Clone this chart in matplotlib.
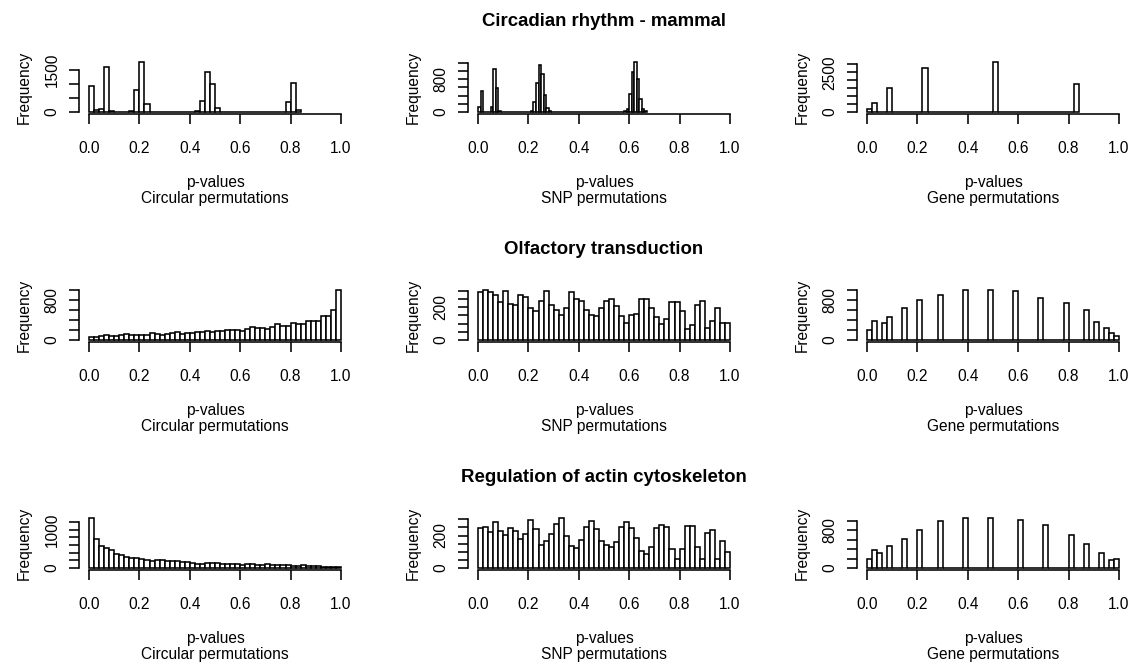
import matplotlib
matplotlib.use("Agg")
import matplotlib.pyplot as plt
import numpy as np

plt.rcParams['font.family'] = ['Liberation Sans', 'DejaVu Sans']

# ---------------- data ----------------
titles = ["Circadian rhythm - mammal", "Olfactory transduction", "Regulation of actin cytoskeleton"]
xlabel_top = "p-values"
xlabels = ["Circular permutations", "SNP permutations", "Gene permutations"]
xtick_vals = [0.0, 0.2, 0.4, 0.6, 0.8, 1.0]
xtick_labels = ["0.0", "0.2", "0.4", "0.6", "0.8", "1.0"]

# Circadian rhythm (bin width 0.02, 0..0.84)
circ_circadian = [920, 60, 90, 1590, 20, 0, 0, 0, 20, 785, 1765, 265, 0, 0, 0, 0, 0, 0, 0, 0,
                  0, 20, 404, 1420, 1004, 138, 0, 0, 0, 0, 0, 0, 0, 0, 0, 0, 0, 0, 0, 346,
                  1015, 60]
# SNP permutations (bin width 0.01, 0..0.67)
snp_circadian = [120, 520, 0, 0, 0, 120, 1064, 584, 20, 0,
                 0, 0, 0, 0, 0, 0, 0, 0, 0, 0,
                 0, 20, 256, 720, 1160, 936, 416, 104, 20, 0,
                 0, 0, 0, 0, 0, 0, 0, 0, 0, 0,
                 0, 0, 0, 0, 0, 0, 0, 0, 0, 0,
                 0, 0, 0, 0, 0, 0, 0, 0, 20, 80,
                 440, 984, 1224, 800, 320, 80, 16]
# Gene permutations (bin width 0.02, 0..0.84)
gene_circadian = [207, 580, 0, 0, 1510, 0, 0, 0, 0, 0, 0, 2793, 0, 0, 0, 0, 0, 0, 0, 0,
                  0, 0, 0, 0, 0, 3145, 0, 0, 0, 0, 0, 0, 0, 0, 0, 0, 0, 0, 0, 0,
                  0, 1759]

circ_olfactory = [65, 65, 85, 98, 78, 78, 98, 111, 91, 91, 91, 91, 130, 118, 98, 118, 130, 150,
                  118, 130, 137, 163, 157, 183, 150, 170, 183, 190, 196, 196, 183, 215, 261, 235,
                  235, 229, 268, 327, 281, 281, 340, 320, 320, 380, 380, 380, 477, 477, 595, 1000]
snp_olfactory = [294, 304, 290, 276, 230, 298, 220, 210, 276, 264, 196, 176, 238, 298, 210, 180,
                 154, 192, 294, 250, 238, 184, 154, 146, 196, 240, 250, 206, 146, 106, 154, 160,
                 248, 248, 196, 140, 98, 130, 234, 228, 176, 66, 92, 214, 236, 70, 114, 194, 104, 104]
gene_olfactory = [200, 387, 0, 340, 467, 0, 0, 653, 0, 0, 807, 0, 0, 0, 900, 0, 0, 0, 0, 1007,
                  0, 0, 0, 0, 1007, 0, 0, 0, 0, 993, 0, 0, 0, 0, 847, 0, 0, 0, 0, 747,
                  0, 0, 0, 607, 0, 353, 0, 233, 133, 80]

circ_actin = [1304, 748, 574, 522, 478, 357, 330, 278, 261, 270, 244, 217, 191, 217, 200, 183,
              174, 174, 157, 148, 130, 113, 113, 122, 130, 122, 104, 104, 113, 104, 87, 104, 96,
              78, 87, 104, 87, 70, 78, 87, 61, 61, 70, 52, 44, 52, 35, 26, 26, 17]
snp_actin = [247, 251, 222, 284, 228, 206, 249, 228, 181, 212, 294, 238, 140, 166, 212, 273,
             308, 195, 134, 123, 173, 255, 292, 242, 169, 140, 129, 160, 255, 284, 247, 185, 105,
             86, 129, 249, 267, 251, 119, 58, 119, 257, 257, 131, 58, 218, 236, 58, 166, 99]
gene_actin = [196, 371, 322, 0, 455, 0, 0, 615, 0, 0, 811, 0, 0, 0, 1000, 0, 0, 0, 0, 1049,
              0, 0, 0, 0, 1056, 0, 0, 0, 0, 0, 1014, 0, 0, 0, 0, 916, 0, 0, 0, 0,
              699, 0, 0, 510, 0, 0, 322, 0, 175, 182]

bin_widths = [[0.02, 0.01, 0.02], [0.02, 0.02, 0.02], [0.02, 0.02, 0.02]]
counts = [[circ_circadian, snp_circadian, gene_circadian],
          [circ_olfactory, snp_olfactory, gene_olfactory],
          [circ_actin, snp_actin, gene_actin]]
yticks = [[[0, 500, 1000, 1500], [0, 200, 400, 600, 800, 1000, 1200], [0, 500, 1000, 1500, 2000, 2500, 3000]],
          [[0, 200, 400, 600, 800, 1000], [0, 50, 100, 150, 200, 250, 300], [0, 200, 400, 600, 800, 1000]],
          [[0, 200, 400, 600, 800, 1000, 1200], [0, 50, 100, 150, 200, 250, 300], [0, 200, 400, 600, 800, 1000]]]
ytick_labels = [[["0", "", "", "1500"], ["0", "", "", "", "800", "", ""], ["0", "", "", "", "", "2500", ""]],
                [["0", "", "", "", "800", ""], ["0", "", "", "", "200", "", ""], ["0", "", "", "", "800", ""]],
                [["0", "", "", "", "", "1000", ""], ["0", "", "", "", "200", "", ""], ["0", "", "", "", "800", ""]]]

# ---------------- layout (pixels) ----------------
W, H = 1132, 665
fig = plt.figure(figsize=(W / 100, H / 100), dpi=100)
fig.patch.set_facecolor('white')

COL_X0 = [79, 468, 857]
ROW_Y0 = [60, 288, 516]
PW, PH = 272, 54
FS = 11.2
TFS = 13.4
LW = 1.15


def fx(px):
    return px / W


def fy(py):
    return 1 - py / H


for r in range(3):
    for c in range(3):
        x0, y0 = COL_X0[c], ROW_Y0[r]
        ax = fig.add_axes([fx(x0), fy(y0 + PH), PW / W, PH / H])
        cnt = np.array(counts[r][c], dtype=float)
        bw = bin_widths[r][c]
        left = np.arange(len(cnt)) * bw
        ax.bar(left, cnt, width=bw, align='edge', facecolor='white',
               edgecolor='black', linewidth=LW)
        ymax = cnt.max()
        ax.set_xlim(-0.04, 1.04)
        ax.set_ylim(-0.04 * ymax, 1.04 * ymax)
        for s in ['top', 'right']:
            ax.spines[s].set_visible(False)
        for s in ['left', 'bottom']:
            ax.spines[s].set_linewidth(LW)
        ax.spines['bottom'].set_bounds(0, 1)
        yt = yticks[r][c]
        ax.spines['left'].set_bounds(yt[0], yt[-1])
        ax.set_xticks(xtick_vals)
        ax.set_xticklabels(xtick_labels, fontsize=FS)
        ax.set_yticks(yt)
        ax.set_yticklabels(ytick_labels[r][c], fontsize=FS, rotation=90, va='center')
        ax.tick_params(axis='both', direction='out', length=7, width=LW, colors='black')
        ax.tick_params(axis='x', pad=12.5)
        ax.tick_params(axis='y', pad=7)
        ax.patch.set_visible(False)

        # y label
        fig.text(fx(x0 - 55), fy(y0 + PH / 2), "Frequency", rotation=90,
                 ha='center', va='center', fontsize=FS)
        # x labels
        cx = x0 + PW / 2
        fig.text(fx(cx), fy(y0 + PH + 68), xlabel_top, ha='center', va='center', fontsize=FS)
        fig.text(fx(cx), fy(y0 + PH + 84), xlabels[c], ha='center', va='center', fontsize=FS)

    # title over the middle panel
    cx = COL_X0[1] + PW / 2
    fig.text(fx(cx), fy(ROW_Y0[r] - 39), titles[r], ha='center', va='center',
             fontsize=TFS, fontweight='bold')

fig.savefig("out.png", dpi=100, facecolor='white')
